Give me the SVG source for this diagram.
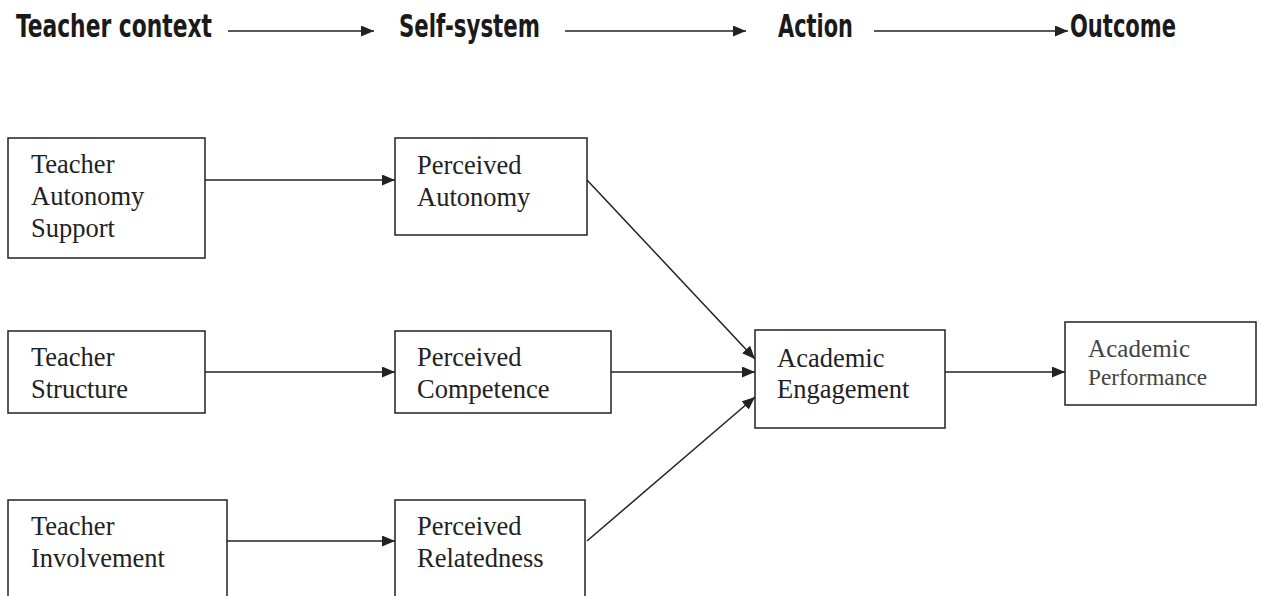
<svg xmlns="http://www.w3.org/2000/svg" width="1264" height="596" viewBox="0 0 1264 596">
<style>
.box{fill:#fff;stroke:#222;stroke-width:1.5}
.t{font-family:"Liberation Serif","Times New Roman",serif;font-size:26.5px;fill:#222}
.h{font-family:"DejaVu Sans Condensed","Liberation Sans Narrow","Liberation Sans",sans-serif;font-weight:bold;font-size:32px;fill:#1a1a1a}
.c{stroke:#222;stroke-width:1.5;fill:none;marker-end:url(#ah)}
</style>
<defs>
<marker id="ah" viewBox="0 0 13 11" refX="13" refY="5.5" markerWidth="13" markerHeight="11" markerUnits="userSpaceOnUse" orient="auto">
<path d="M0,0 L13,5.5 L0,11 Z" fill="#222"/>
</marker>
</defs>
<rect width="1264" height="596" fill="#fff"/>
<g id="header">
<text class="h" x="16" y="37" textLength="196" lengthAdjust="spacingAndGlyphs">Teacher context</text>
<text class="h" x="399" y="37" textLength="141" lengthAdjust="spacingAndGlyphs">Self-system</text>
<text class="h" x="778" y="37" textLength="75" lengthAdjust="spacingAndGlyphs">Action</text>
<text class="h" x="1070" y="37" textLength="106" lengthAdjust="spacingAndGlyphs">Outcome</text>
</g>
<g id="connectors">
<line class="c" x1="228" y1="31" x2="374" y2="31"/>
<line class="c" x1="565" y1="31" x2="746" y2="31"/>
<line class="c" x1="874" y1="31" x2="1068" y2="31"/>
<line class="c" x1="205" y1="180" x2="395" y2="180"/>
<line class="c" x1="205" y1="372" x2="395" y2="372"/>
<line class="c" x1="227" y1="541" x2="395" y2="541"/>
<line class="c" x1="587" y1="180" x2="755" y2="359"/>
<line class="c" x1="611" y1="372" x2="755" y2="372"/>
<line class="c" x1="587" y1="541" x2="755" y2="397"/>
<line class="c" x1="945" y1="372" x2="1065" y2="372"/>
</g>
<g id="teacher-autonomy-support">
<rect class="box" x="8" y="138" width="197" height="120"/>
<text class="t" x="31" y="173">Teacher</text>
<text class="t" x="31" y="205">Autonomy</text>
<text class="t" x="31" y="237">Support</text>
</g>
<g id="perceived-autonomy">
<rect class="box" x="395" y="138" width="192" height="97"/>
<text class="t" x="417" y="174">Perceived</text>
<text class="t" x="417" y="206">Autonomy</text>
</g>
<g id="teacher-structure">
<rect class="box" x="8" y="331" width="197" height="82"/>
<text class="t" x="31" y="366">Teacher</text>
<text class="t" x="31" y="398">Structure</text>
</g>
<g id="perceived-competence">
<rect class="box" x="395" y="331" width="216" height="82"/>
<text class="t" x="417" y="366">Perceived</text>
<text class="t" x="417" y="398">Competence</text>
</g>
<g id="teacher-involvement">
<rect class="box" x="8" y="500" width="219" height="110"/>
<text class="t" x="31" y="535">Teacher</text>
<text class="t" x="31" y="567">Involvement</text>
</g>
<g id="perceived-relatedness">
<rect class="box" x="395" y="500" width="190" height="110"/>
<text class="t" x="417" y="535">Perceived</text>
<text class="t" x="417" y="567">Relatedness</text>
</g>
<g id="academic-engagement">
<rect class="box" x="755" y="330" width="190" height="98"/>
<text class="t" x="777" y="367">Academic</text>
<text class="t" x="777" y="398">Engagement</text>
</g>
<g id="academic-performance">
<rect class="box" x="1065" y="322" width="191" height="83"/>
<text class="t" x="1088" y="357" style="font-size:25px;fill:#444" textLength="102" lengthAdjust="spacing">Academic</text>
<text class="t" x="1088" y="385" style="font-size:23px;fill:#444" textLength="119" lengthAdjust="spacingAndGlyphs">Performance</text>
</g>
</svg>
